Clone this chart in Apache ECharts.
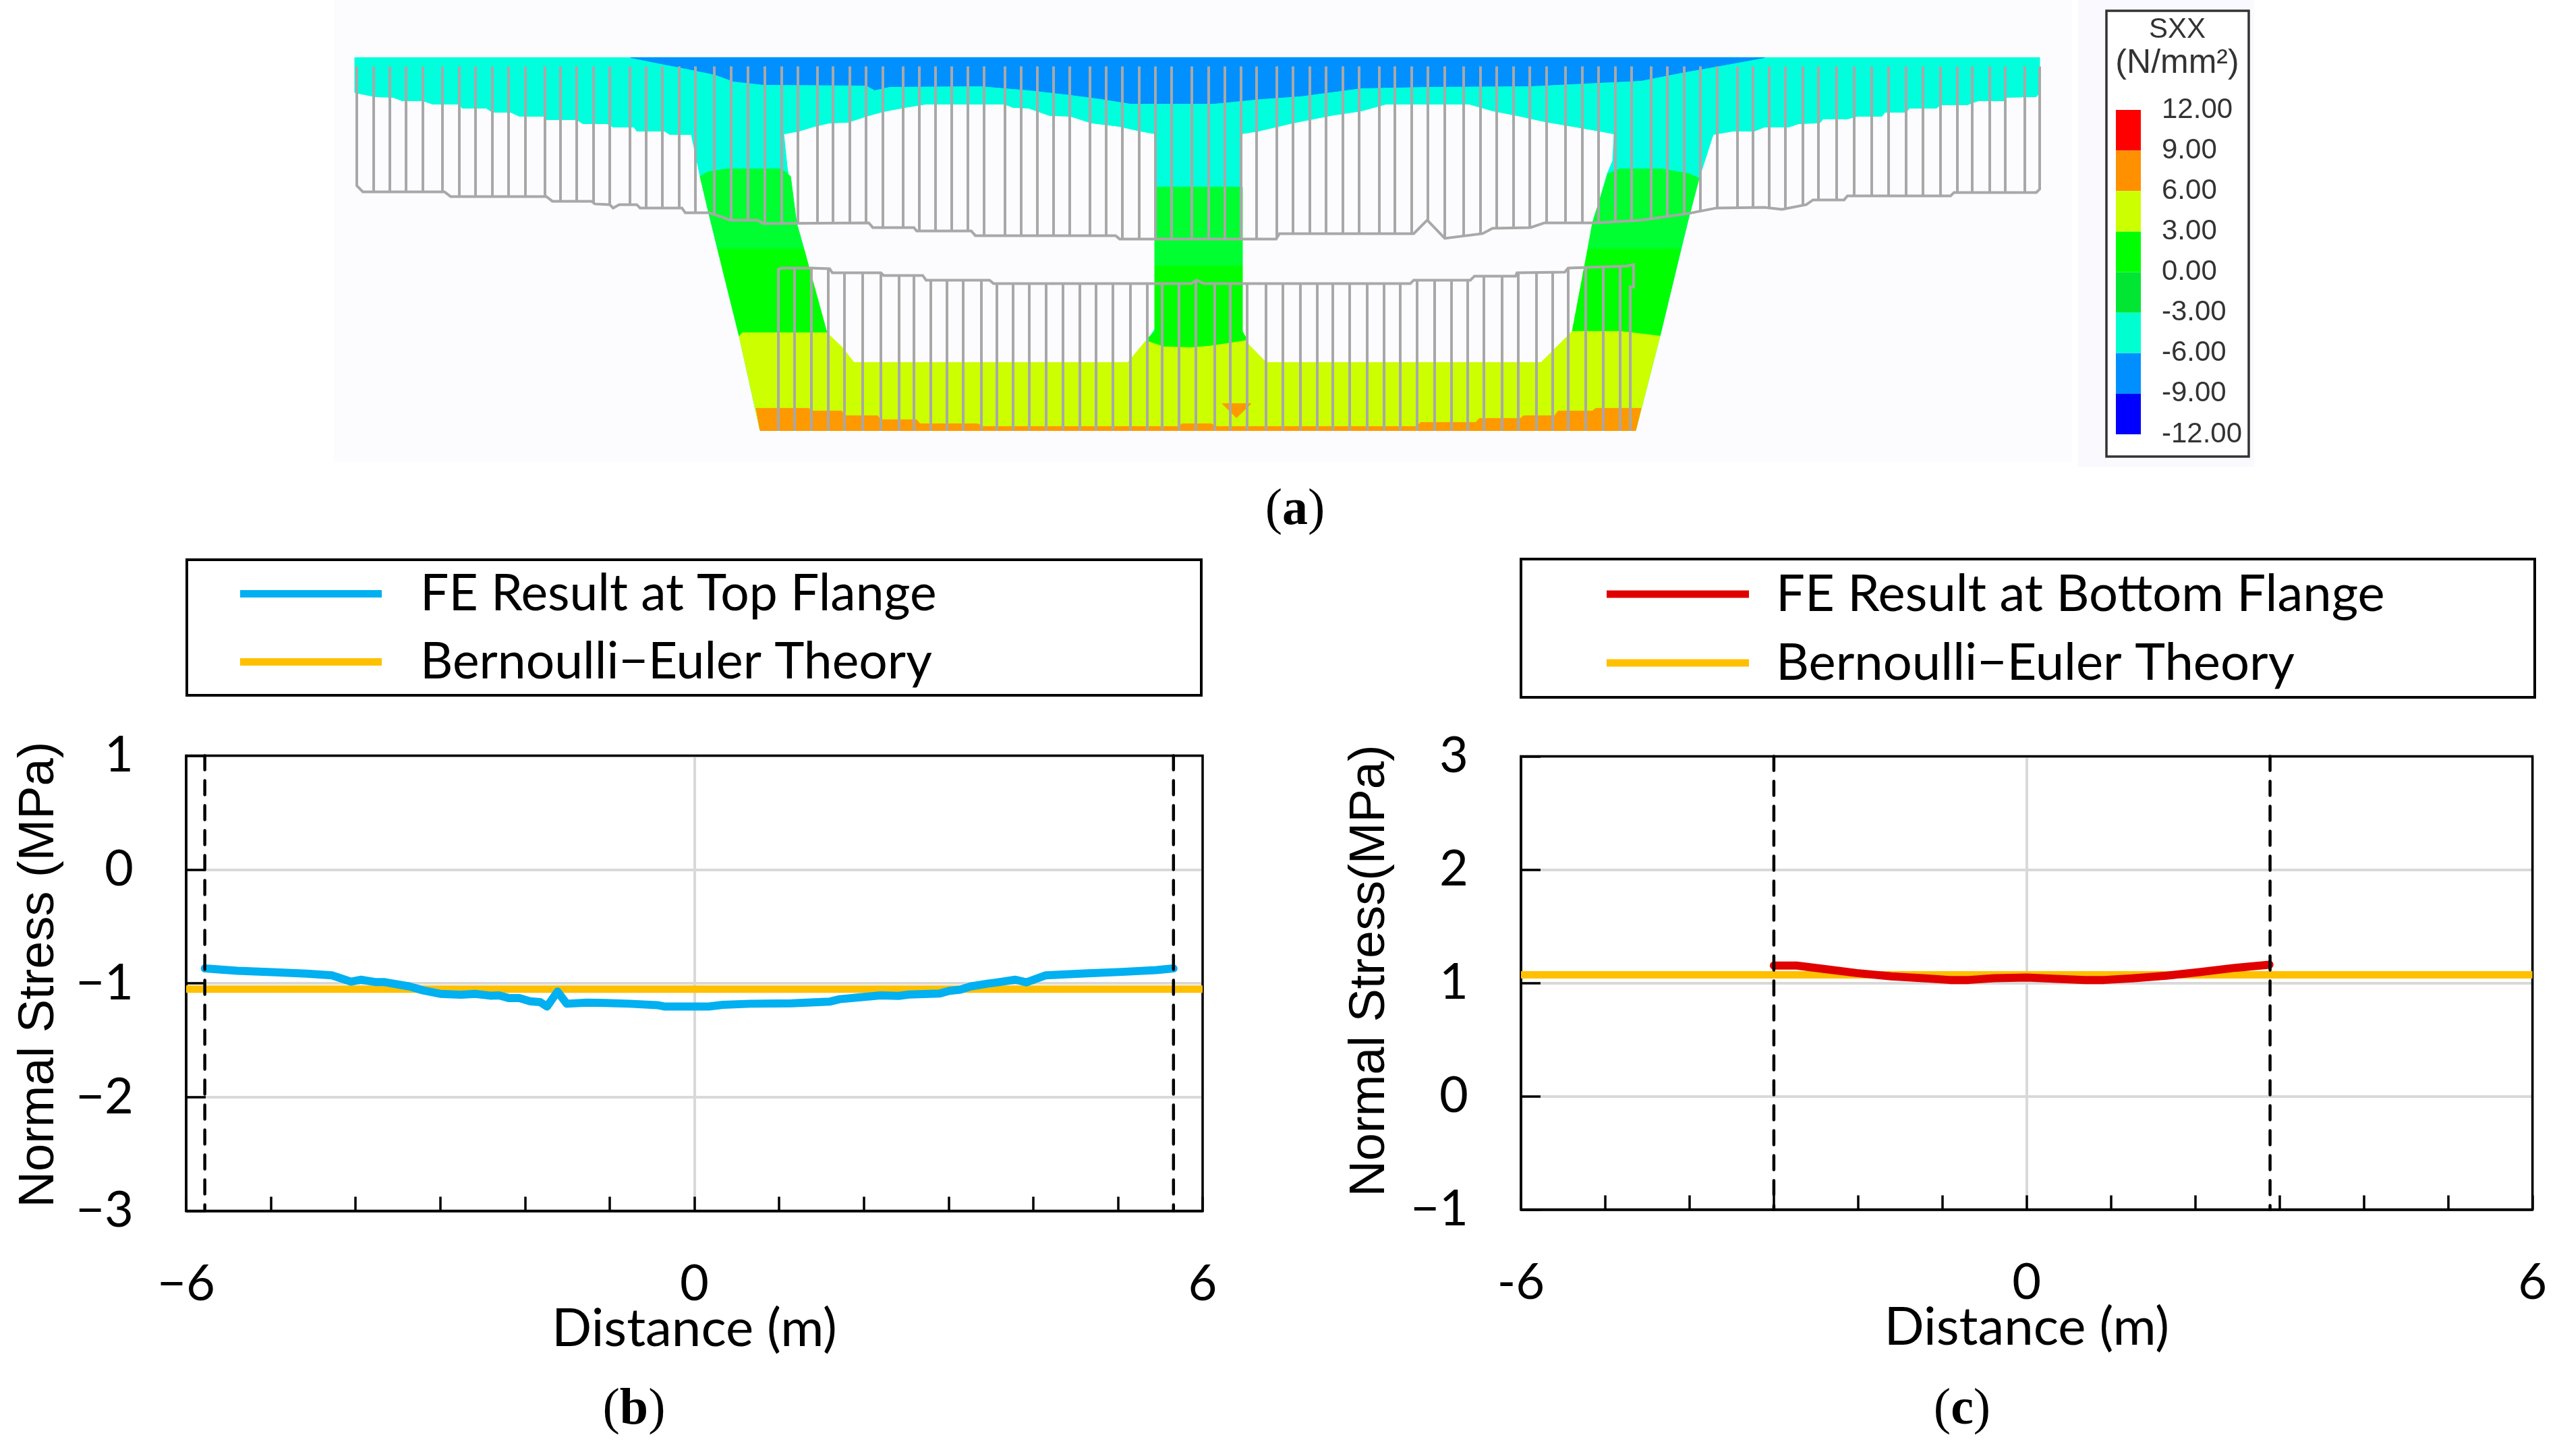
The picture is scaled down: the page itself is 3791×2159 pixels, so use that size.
<!DOCTYPE html>
<html><head><meta charset="utf-8">
<style>html,body{margin:0;padding:0;background:#fff}#c{width:3791px;height:2159px}</style>
<script src="https://cdn.jsdelivr.net/npm/echarts@6/dist/echarts.min.js"></script>
</head><body><div id="c"></div>
<script>
// ---- panel (b) top flange, distance (m) / stress (MPa)
const topX=[-5.78,-5.395,-4.99,-4.58,-4.28,-4.054,-3.94,-3.77,-3.668,-3.364,-3.2,-3.0,-2.754,-2.59,-2.41,-2.307,-2.186,-2.065,-1.94,-1.82,-1.74,-1.616,-1.507,-1.27,-1.047,-0.763,-0.438,-0.357,-0.235,0.171,0.334,0.657,1.147,1.593,1.715,1.96,2.2,2.41,2.53,2.89,3.01,3.14,3.26,3.46,3.58,3.79,3.92,4.15,4.6,5.05,5.45,5.656];
const topY=[-0.87,-0.89,-0.902,-0.915,-0.93,-0.986,-0.969,-0.989,-0.989,-1.028,-1.063,-1.093,-1.101,-1.093,-1.109,-1.107,-1.131,-1.131,-1.158,-1.166,-1.205,-1.073,-1.18,-1.17,-1.174,-1.18,-1.192,-1.204,-1.204,-1.204,-1.19,-1.18,-1.176,-1.162,-1.14,-1.123,-1.107,-1.111,-1.099,-1.091,-1.067,-1.056,-1.028,-1.004,-0.992,-0.969,-0.992,-0.93,-0.914,-0.9,-0.884,-0.87];
const theoryTop=-1.052;
const websTop=[-5.78,5.656];
// ---- panel (c) bottom flange
const botX=[-3.0,-2.73,-2.425,-2.016,-1.608,-1.2,-0.914,-0.689,-0.384,0.005,0.352,0.696,0.92,1.25,1.658,2.066,2.47,2.88];
const botY=[1.153,1.153,1.125,1.087,1.058,1.04,1.026,1.026,1.042,1.048,1.036,1.026,1.026,1.04,1.064,1.097,1.133,1.161];
const theoryBot=1.071;
const websBot=[-3.0,2.887];
// ---- panel (a) contour bands of the section: [across, depth] in section units
const outlineBand=[[-1249,0],[1249,0],[1249,52],[1244,58],[1198,59],[1198,64],[1158,64],[1142,70],[1102,70],[1096,75],[1056,75],[1051,81],[1020,81],[1015,87],[979,87],[964,91],[928,91],[923,97],[892,98],[877,103],[841,103],[826,109],[795,109],[765,114],[744,179],[729,236],[686,413],[650,553],[-648,553],[-679,413],[-724,231],[-737,176],[-750,114],[-782,114],[-790,109],[-831,109],[-835,103],[-866,103],[-875,98],[-911,98],[-920,92],[-965,92],[-969,87],[-1005,87],[-1018,81],[-1045,81],[-1054,75],[-1090,75],[-1094,69],[-1134,69],[-1148,64],[-1179,64],[-1192,59],[-1219,58],[-1249,52]];
const leftCell=[[-612,114],[-590,110],[-567,103],[-545,98],[-518,97],[-487,87],[-465,81],[-433,75],[-402,70],[-286,70],[-273,75],[-250,76],[-219,87],[-188,88],[-157,98],[-116,103],[-85,110],[-63,114],[-63,401],[-72,415],[-76,420],[-103,452],[-509,452],[-527,429],[-549,408],[-594,245],[-607,162]];
const rightCell=[[66,114],[91,110],[142,98],[198,87],[244,80],[280,70],[403,70],[438,80],[474,87],[515,96],[556,103],[596,110],[617,114],[615,153],[607,172],[586,245],[556,406],[510,452],[102,452],[71,420],[66,406]];
const blueBand=[[-840,0],[-795,9],[-759,16],[-715,25],[-688,35],[-643,40],[-491,41],[-478,48],[-456,43],[-322,42],[-250,48],[-188,55],[-143,61],[-99,68],[25,68],[96,61],[153,57],[244,45],[346,43],[494,42],[658,34],[719,22],[770,13],[841,0]];
const webGreenLeft=[[-737,176],[-724,169],[-697,165],[-616,165],[-603,176],[-594,245],[-583,284],[-711,284],[-724,231]];
const webGreenMid=[[-63,192],[67,192],[67,309],[-63,309]];
const webGreenRight=[[609,172],[627,165],[688,165],[729,172],[744,179],[729,236],[717,284],[579,284],[586,245]];
const lowGreenLeft=[[-711,284],[-583,284],[-549,408],[-674,408],[-679,413]];
const lowGreenMid=[[-63,309],[67,309],[67,406],[72,415],[71,420],[44,424],[18,428],[-9,430],[-49,429],[-76,420],[-72,415],[-63,406]];
const lowGreenRight=[[579,284],[717,284],[686,413],[627,406],[556,406]];
const yellowBand=[[-679,413],[-674,408],[-549,408],[-527,429],[-509,452],[-103,452],[-76,420],[-49,429],[-9,430],[18,428],[44,424],[71,420],[102,452],[510,452],[556,406],[627,406],[686,413],[650,553],[-648,553]];
const orangeBand=[[-654,520],[-576,520],[-572,524],[-527,524],[-523,531],[-474,531],[-469,537],[-416,537],[-411,543],[-326,543],[-317,547],[-27,547],[-23,543],[22,543],[26,547],[326,547],[331,541],[413,541],[418,535],[479,535],[484,531],[530,531],[535,524],[586,524],[591,520],[658,520],[650,553],[-648,553]];
const orangeSpot=[[37,513],[80,513],[58,534]];
// deformed-stress diagram outlines and rib positions
const upperDiagram=[[-1246,13],[-1246,190],[-1237,199],[-1116,199],[-1107,206],[-965,206],[-956,213],[-898,213],[-893,217],[-871,218],[-866,223],[-857,218],[-831,218],[-826,223],[-764,223],[-759,230],[-724,230],[-706,236],[-692,241],[-652,241],[-643,246],[-487,245],[-481,252],[-420,252],[-416,257],[-335,257],[-329,264],[-121,264],[-115,269],[117,269],[122,261],[321,261],[341,241],[367,268],[423,261],[438,253],[494,252],[515,245],[591,245],[658,241],[729,231],[770,223],[841,222],[867,225],[903,218],[913,211],[959,211],[964,205],[1117,205],[1122,200],[1244,200],[1249,195],[1249,13]];
const upperRibs=[-1221,-1197,-1173,-1148,-1119,-1094,-1070,-1045,-1021,-996,-967,-944,-920,-895,-871,-841,-817,-793,-768,-744,-716,-691,-666,-641,-616,-592,-563,-540,-515,-491,-466,-436,-412,-388,-364,-340,-316,-285,-261,-237,-213,-189,-159,-135,-111,-86,-62,-38,-8,17,41,65,88,118,142,167,191,216,240,270,293,318,342,367,395,420,444,469,493,518,546,571,595,620,644,673,697,722,746,771,801,824,848,872,898,921,948,974,1000,1025,1051,1076,1102,1127,1149,1175,1198,1227];
const lowerDiagram=[[-621,553],[-621,314],[-616,312],[-572,312],[-545,313],[-541,319],[-469,319],[-465,323],[-407,323],[-402,330],[-308,330],[-302,335],[-9,335],[-1,330],[10,335],[316,335],[321,330],[405,330],[411,324],[472,324],[474,319],[545,318],[550,312],[637,309],[647,307],[647,340],[642,340],[642,553]];
const lowerRibs=[-597,-572,-547,-523,-496,-469,-442,-420,-395,-371,-347,-320,-297,-273,-249,-224,-199,-174,-150,-125,-99,-74,-52,-27,-2,26,49,74,102,127,153,178,201,226,252,277,301,326,352,377,401,425,452,476,503,527,550,576,602,627];
// ---- colour scale
const scaleLevels=[12,9,6,3,0,-3,-6,-9,-12];
const scaleColors=['#FF0000','#FF9000','#CCFF00','#00FF00','#00E632','#00FFD0','#008FFF','#0000FF'];

const BG='#FCFCFF',RIB='#A8A8A8';
const C_CY='#00FFDC',C_BL='#0090FF',C_G1='#00FF30',C_G2='#00FF00',C_Y='#CCFF00',C_O='#FF9900';
const polys=[[outlineBand,C_CY],[leftCell,BG],[rightCell,BG],[blueBand,C_BL],[webGreenLeft,C_G1],[webGreenMid,C_G1],[webGreenRight,C_G1],[lowGreenLeft,C_G2],[lowGreenMid,C_G2],[lowGreenRight,C_G2],[yellowBand,C_Y],[orangeBand,C_O],[orangeSpot,C_O]];
function depthOn(path,u){for(let i=1;i<path.length;i++){const a=path[i-1],b=path[i];if(a[0]<b[0]&&u>=a[0]&&u<=b[0])return a[1]+(b[1]-a[1])*(u-a[0])/(b[0]-a[0]);}return 553;}

const pair=(xs,ys)=>xs.map((x,i)=>[x,ys[i]]);
const minusFmt=v=>v<0?'\u2212'+Math.abs(v):''+v;
const LAB='Lato',NAMEF='Liberation Sans';
function plotAxes(grid,xFmt,yMin,yMax,yName,nameGap,namePad){
 return {
  x:{type:'value',gridIndex:grid,min:-6,max:6,interval:6,
    axisLine:{show:true,onZero:false,lineStyle:{color:'#000',width:3.5}},
    axisTick:{show:true,inside:true,length:21,lineStyle:{color:'#000',width:3.5}},
    minorTick:{show:true,splitNumber:6,length:21,lineStyle:{color:'#000',width:3.5}},
    axisLabel:{formatter:xFmt,color:'#000',fontFamily:LAB,fontSize:74,margin:72,showMinLabel:true,showMaxLabel:true,hideOverlap:false},
    splitLine:{show:true,lineStyle:{color:'#D9D9D9',width:4}},
    name:'Distance (m)',nameLocation:'middle',nameGap:175,nameMoveOverlap:false,nameTextStyle:{color:'#000',fontFamily:LAB,fontSize:78,verticalAlign:'middle'}},
  y:{type:'value',gridIndex:grid,min:yMin,max:yMax,interval:1,
    axisLine:{show:true,onZero:false,lineStyle:{color:'#000',width:3.5}},
    axisTick:{show:true,inside:true,length:29,lineStyle:{color:'#000',width:3.5}},
    axisLabel:{formatter:minusFmt,color:'#000',fontFamily:LAB,fontSize:74,margin:78,padding:[6,0,0,0],showMinLabel:true,showMaxLabel:true,hideOverlap:false},
    splitLine:{show:true,lineStyle:{color:'#D9D9D9',width:4}},
    name:yName,nameLocation:'middle',nameGap:nameGap,nameMoveOverlap:false,nameTextStyle:{color:'#000',fontFamily:NAMEF,fontSize:74,padding:namePad,verticalAlign:'middle'}}
 };
}
const pb=plotAxes(0,v=>v<0?'\u2212'+Math.abs(v):''+v,-3,1,'Normal Stress (MPa)',217,[0,0,0,26]);
const pc=plotAxes(1,v=>''+v,-1,3,'Normal Stress(MPa)',223,[0,0,0,36]);
const secX={type:'value',gridIndex:2,min:-1280,max:1297,show:false};
const secY={type:'value',gridIndex:2,min:-85.4,max:599.6,inverse:true,show:false};
const scaleX={type:'value',gridIndex:3,min:0,max:1,show:false};
const scaleY={type:'value',gridIndex:3,min:-12,max:12,interval:3,position:'right',z:8,
  axisLine:{show:false},axisTick:{show:false},splitLine:{show:false},
  axisLabel:{formatter:v=>v.toFixed(2),color:'#333',fontFamily:NAMEF,fontSize:42,margin:31,align:'left',padding:[0,0,16,0],showMinLabel:true,showMaxLabel:true,hideOverlap:false}};

function lineS(name,xi,yi,data,color,w,z,extra){return Object.assign({type:'line',name,xAxisIndex:xi,yAxisIndex:yi,data,symbol:'none',clip:false,z,silent:true,animation:false,
  lineStyle:{color,width:w,join:'round',cap:'round'},itemStyle:{color},emphasis:{disabled:true}},extra||{});}
const dashS=(xi,yi,x,y0,y1)=>lineS('web'+xi+x,xi,yi,[[x,y0],[x,y1]],'#000',4.5,5,{lineStyle:{color:'#000',width:4.5,type:[21,16],cap:'round'}});
const capt=(x,y,l)=>({type:'text',style:{x,y,text:'({b|'+l+'})',fill:'#000',font:'76px "Liberation Serif"',align:'center',verticalAlign:'middle',rich:{b:{fontWeight:'bold',fontFamily:'Liberation Serif',fontSize:76}}}});

const option={
 backgroundColor:'#fff',animation:false,
 grid:[
  {left:276,top:1120.5,width:1507,height:675,show:false},
  {left:2255,top:1121.5,width:1499.6,height:672,show:false},
  {left:495,top:0,width:2577,height:685,show:true,backgroundColor:BG,borderWidth:0},
  {left:3137,top:163,width:37,height:481,show:false}],
 xAxis:[pb.x,pc.x,secX,scaleX],
 yAxis:[pb.y,pc.y,secY,scaleY],
 legend:[
  {left:356,top:843,orient:'vertical',icon:'rect',itemWidth:210,itemHeight:11,itemGap:26,padding:0,data:['FE Result at Top Flange','Bernoulli\u2212Euler Theory'],
   selectedMode:false,textStyle:{color:'#000',fontFamily:LAB,fontSize:75,padding:[0,0,0,52]}},
  {left:2382,top:843,orient:'vertical',icon:'rect',itemWidth:211,itemHeight:11,itemGap:26,padding:0,data:['FE Result at Bottom Flange','Bernoulli\u2212Euler Theory'],
   selectedMode:false,textStyle:{color:'#000',fontFamily:LAB,fontSize:76,padding:[0,0,0,35]}}],
 graphic:{elements:[
  {type:'rect',z:1,shape:{x:3081,y:0,width:261,height:692},style:{fill:'#F9F9FE'}},
  {type:'rect',z:2,shape:{x:3123,y:16,width:211,height:661},style:{fill:'#fff',stroke:'#333',lineWidth:3.5}},
  {type:'text',z:3,style:{x:3228,y:44,text:'SXX',fill:'#333',font:'42px "Liberation Sans"',align:'center',verticalAlign:'middle'}},
  {type:'text',z:3,style:{x:3228,y:94,text:'(N/mm\u00B2)',fill:'#333',font:'50px "Liberation Sans"',align:'center',verticalAlign:'middle'}},
  {type:'rect',z:1,shape:{x:277,y:830,width:1504,height:201},style:{fill:'none',stroke:'#000',lineWidth:4}},
  {type:'rect',z:1,shape:{x:2255,y:829,width:1503,height:205},style:{fill:'none',stroke:'#000',lineWidth:4}},
  {type:'rect',z:1,shape:{x:276,y:1120.5,width:1507,height:675},style:{fill:'none',stroke:'#000',lineWidth:3.5}},
  {type:'rect',z:1,shape:{x:2255,y:1121.5,width:1499.6,height:672},style:{fill:'none',stroke:'#000',lineWidth:3.5}},
  capt(1920,757,'a'),capt(940,2091,'b'),capt(2909,2091,'c')
 ]},
 series:[
  lineS('Bernoulli\u2212Euler Theory',0,0,[[-6,theoryTop],[6,theoryTop]],'#FFC000',11,3,{lineStyle:{color:'#FFC000',width:11,cap:'butt'}}),
  lineS('FE Result at Top Flange',0,0,pair(topX,topY),'#00B0F0',12,4),
  dashS(0,0,websTop[0],1,-3),dashS(0,0,websTop[1],1,-3),
  lineS('Bernoulli\u2212Euler Theory',1,1,[[-6,theoryBot],[6,theoryBot]],'#FFC000',11,3,{lineStyle:{color:'#FFC000',width:11,cap:'butt'}}),
  lineS('FE Result at Bottom Flange',1,1,pair(botX,botY),'#E00000',12,4),
  dashS(1,1,websBot[0],3,-1),dashS(1,1,websBot[1],3,-1),
  {type:'custom',xAxisIndex:2,yAxisIndex:2,silent:true,z:3,clip:false,animation:false,data:polys.map((p,i)=>[i]),
   renderItem:(params,api)=>{const p=polys[params.dataIndex];return {type:'polygon',shape:{points:p[0].map(q=>api.coord(q))},style:{fill:p[1],stroke:p[1],lineWidth:1}};}},
  {type:'custom',xAxisIndex:2,yAxisIndex:2,silent:true,z:4,clip:false,animation:false,data:[0],
   renderItem:(params,api)=>{
    const ch=[];const st={stroke:RIB,lineWidth:4,fill:'none'};
    upperRibs.forEach(u=>ch.push({type:'polyline',shape:{points:[api.coord([u,13]),api.coord([u,depthOn(upperDiagram,u)])]},style:st}));
    lowerRibs.forEach(u=>ch.push({type:'polyline',shape:{points:[api.coord([u,depthOn(lowerDiagram,u)]),api.coord([u,553])]},style:st}));
    ch.push({type:'polyline',shape:{points:upperDiagram.map(q=>api.coord(q))},style:st});
    ch.push({type:'polyline',shape:{points:lowerDiagram.map(q=>api.coord(q))},style:st});
    return {type:'group',children:ch};}},
  {type:'custom',xAxisIndex:3,yAxisIndex:3,silent:true,z:5,animation:false,data:scaleColors.map((c,i)=>[i]),
   renderItem:(params,api)=>{const i=params.dataIndex;const a=api.coord([0,scaleLevels[i]]),b=api.coord([1,scaleLevels[i+1]]);
    return {type:'rect',shape:{x:a[0],y:a[1],width:b[0]-a[0],height:b[1]-a[1]},style:{fill:scaleColors[i]}};}}
 ]
};
echarts.init(document.getElementById('c'),null,{renderer:'canvas'}).setOption(option);
</script></body></html>
